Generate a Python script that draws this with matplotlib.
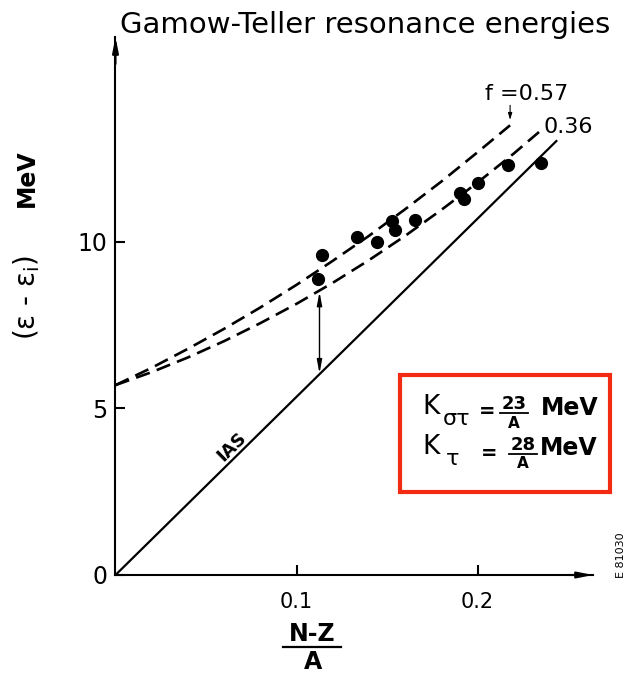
import matplotlib
matplotlib.use("Agg")
import matplotlib.pyplot as plt
from matplotlib.patches import Rectangle

plt.rcParams["font.family"] = ["DejaVu Sans"]
plt.rcParams["mathtext.default"] = "regular"

# (N-Z)/A values and GT resonance energies (MeV)
x_data = [0.1141, 0.1119, 0.1334, 0.1445, 0.1528, 0.1544, 0.1655,
          0.1903, 0.1925, 0.2003, 0.2169, 0.2351]
y_data = [9.61, 8.89, 10.15, 10.00, 10.63, 10.36, 10.66,
          11.47, 11.29, 11.77, 12.31, 12.37]

# model curves, f = 0.57 and f = 0.36
x_f057 = [0, 0.02, 0.04, 0.06, 0.08, 0.10, 0.12, 0.14, 0.16, 0.18, 0.20, 0.218]
y_f057 = [5.70, 6.22, 6.79, 7.39, 8.03, 8.71, 9.43, 10.18, 10.98, 11.81, 12.69, 13.50]
x_f036 = [0, 0.02, 0.04, 0.06, 0.08, 0.10, 0.12, 0.14, 0.16, 0.18, 0.20, 0.22, 0.234]
y_f036 = [5.70, 6.09, 6.53, 7.02, 7.56, 8.14, 8.77, 9.45, 10.18, 10.96, 11.78, 12.65, 13.30]

# isobaric analog state line
x_ias = [0, 0.244]
y_ias = [0, 13.05]

# splitting arrow between IAS and GT curve
arrow_x = 0.1127
arrow_lo = 6.05
arrow_hi = 8.50

xticks = [0.1, 0.2]
xticklabels = ["0.1", "0.2"]
yticks = [0, 5, 10]
yticklabels = ["0", "5", "10"]

W, H = 636, 673


def fx(x):
    return x / W


def fy(y):
    return 1 - y / H


fig = plt.figure(figsize=(W / 100, H / 100), dpi=100)
ax = fig.add_axes([fx(115.5), fy(575), (593 - 115.5) / W, (575 - 37) / H])
ax.set_xlim(0, 0.2638)
ax.set_ylim(0, 16.15)

for s in ["top", "right"]:
    ax.spines[s].set_visible(False)
for s in ["left", "bottom"]:
    ax.spines[s].set_linewidth(1.5)

# axis arrow heads
ax.annotate("", xy=(1.0, 0), xytext=(0.95, 0), xycoords="axes fraction",
            arrowprops=dict(arrowstyle="-|>,head_length=0.9,head_width=0.18",
                            color="k", lw=1.5, shrinkA=0, shrinkB=0))
ax.annotate("", xy=(0, 1.0), xytext=(0, 0.95), xycoords="axes fraction",
            arrowprops=dict(arrowstyle="-|>,head_length=0.9,head_width=0.18",
                            color="k", lw=1.5, shrinkA=0, shrinkB=0))

ax.set_xticks(xticks)
ax.set_xticklabels(xticklabels, fontsize=15)
ax.set_yticks(yticks)
ax.set_yticklabels(yticklabels, fontsize=17)
ax.tick_params(axis="both", direction="in", length=7, width=1.5)
ax.tick_params(axis="y", pad=6)
ax.tick_params(axis="x", pad=12)

# curves
ax.plot(x_ias, y_ias, color="k", lw=1.6, solid_capstyle="butt")
l1, = ax.plot(x_f057, y_f057, color="k", lw=1.9)
l1.set_dashes((5.5, 2.8))
l2, = ax.plot(x_f036, y_f036, color="k", lw=1.9)
l2.set_dashes((5.5, 2.8))
ax.plot(x_data, y_data, "o", color="k", ms=8.5, clip_on=False)

ax.annotate("", xy=(arrow_x, arrow_lo), xytext=(arrow_x, arrow_hi),
            arrowprops=dict(arrowstyle="<|-|>,head_length=0.8,head_width=0.15",
                            color="k", lw=1.0, shrinkA=0, shrinkB=0))

# curve labels
ax.text(0.204, 14.44, "f =0.57", fontsize=16, va="center", ha="left")
ax.annotate("", xy=(0.218, 13.66), xytext=(0.218, 14.10),
            arrowprops=dict(arrowstyle="-|>,head_length=0.4,head_width=0.12",
                            color="k", lw=0.8, shrinkA=0, shrinkB=0))
ax.text(0.2362, 13.45, "0.36", fontsize=16, va="center", ha="left")
ax.text(0.0642, 3.85, "IAS", fontsize=13, fontweight="bold", rotation=44.5,
        va="center", ha="center", rotation_mode="anchor")

# title and axis labels
fig.text(fx(365), fy(25), "Gamow-Teller resonance energies", fontsize=21,
         ha="center", va="center")
fig.text(fx(27), fy(178), "MeV", fontsize=17, rotation=90,
         ha="center", va="center", fontweight="bold")
fig.text(fx(27), fy(297), "$(ε$ - $ε_i)$", fontsize=20, rotation=90,
         ha="center", va="center")
fig.text(fx(312), fy(634), "N-Z", fontsize=17, fontweight="bold",
         ha="center", va="center")
fig.add_artist(plt.Line2D([fx(283), fx(341)], [fy(647), fy(647)],
                          transform=fig.transFigure, color="k", lw=1.6))
fig.text(fx(313), fy(662), "A", fontsize=17, fontweight="bold",
         ha="center", va="center")
fig.text(fx(621), fy(555), "E 81030", fontsize=8, rotation=90,
         ha="center", va="center")

# coupling constants box
fig.add_artist(Rectangle((fx(400), fy(492)), (610 - 400) / W, (492 - 375) / H,
                         transform=fig.transFigure, fill=False,
                         edgecolor="#f22b12", lw=3))


def frac_text(xc, ytop, num, den):
    fig.text(fx(xc), fy(ytop), num, fontsize=13, fontweight="bold",
             ha="center", va="center")
    fig.add_artist(plt.Line2D([fx(xc - 14), fx(xc + 14)],
                              [fy(ytop + 9), fy(ytop + 9)],
                              transform=fig.transFigure, color="k", lw=1.3))
    fig.text(fx(xc), fy(ytop + 19), den, fontsize=11, fontweight="bold",
             ha="center", va="center")


fig.text(fx(422), fy(407), "K", fontsize=19, ha="left", va="center")
fig.text(fx(443), fy(419), "στ", fontsize=16, ha="left", va="center")
fig.text(fx(487), fy(411), "=", fontsize=14, fontweight="bold",
         ha="center", va="center")
fig.text(fx(422), fy(447), "K", fontsize=19, ha="left", va="center")
fig.text(fx(446), fy(459), "τ", fontsize=16, ha="left", va="center")
fig.text(fx(489), fy(453), "=", fontsize=14, fontweight="bold",
         ha="center", va="center")

frac_text(514, 404, "23", "A")
fig.text(fx(541), fy(408), "MeV", fontsize=17, fontweight="bold",
         ha="left", va="center")
frac_text(523, 445, "28", "A")
fig.text(fx(540), fy(448), "MeV", fontsize=17, fontweight="bold",
         ha="left", va="center")

fig.savefig("out.png", dpi=100)
